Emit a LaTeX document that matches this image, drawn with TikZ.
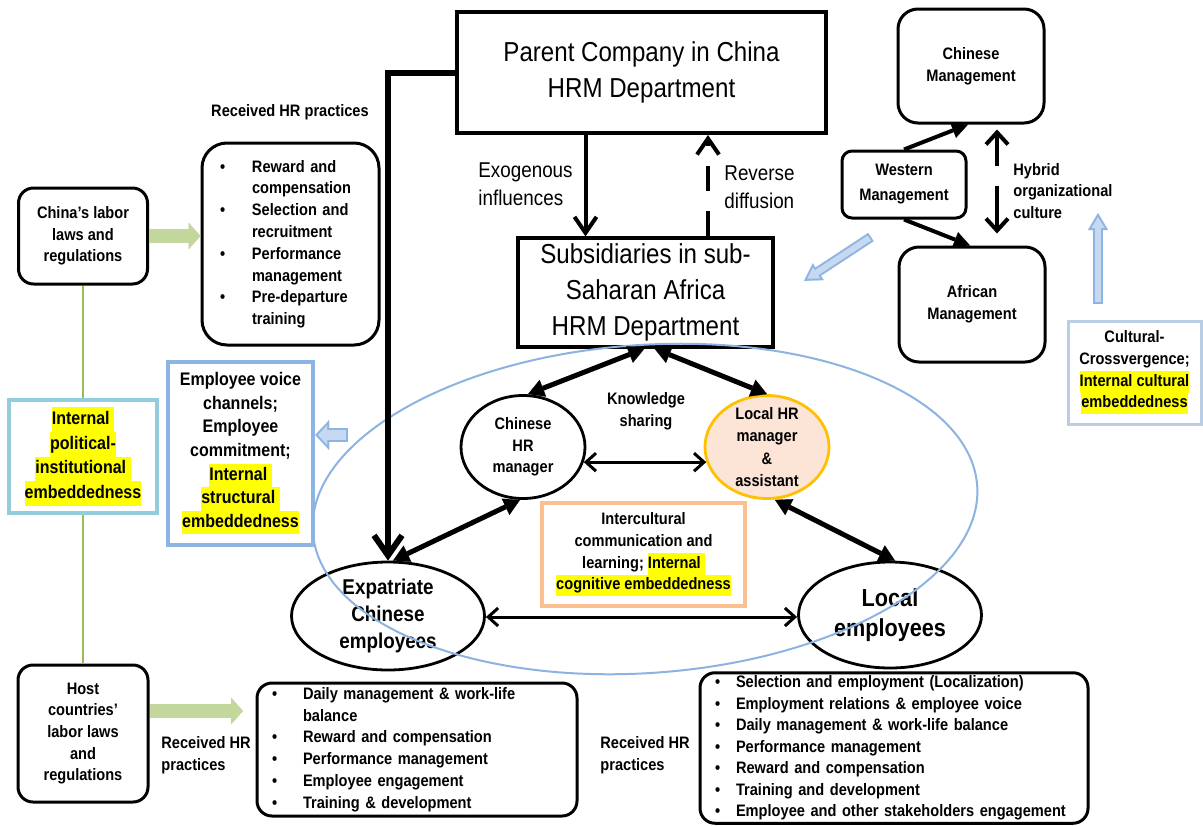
\documentclass[tikz,border=0pt]{standalone}
\usepackage{fontspec}
\setmainfont{Liberation Sans}[FakeStretch=0.88]
\usetikzlibrary{arrows.meta,shapes.geometric}

\definecolor{hlyellow}{HTML}{FFFF00}
\definecolor{lawgreen}{HTML}{C3D69B}
\definecolor{linkgreen}{HTML}{9BBB59}
\definecolor{politc}{HTML}{93CDDD}
\definecolor{voicec}{HTML}{8EB4E3}
\definecolor{zonec}{HTML}{8DB3E2}
\definecolor{cultc}{HTML}{B9CDE5}
\definecolor{icc}{HTML}{FAC090}
\definecolor{lhrfill}{HTML}{FCE4D6}
\definecolor{lhredge}{HTML}{FFC000}
\definecolor{hollowedge}{HTML}{8EB4E3}
\definecolor{hollowfill}{HTML}{C6D9F1}

% yellow highlight behind a line of text
\newcommand\hlt[1]{{\setlength{\fboxsep}{0pt}\colorbox{hlyellow}{\strut#1}}}
% font sizes
\newcommand\ftitle{\fontsize{13.7}{18}\selectfont}
\newcommand\fexo{\fontsize{10.7}{14}\selectfont}
\newcommand\fsm{\fontsize{8.3}{10.8}\selectfont\bfseries}
\newcommand\flist{\fontsize{8.3}{10.9}\selectfont\bfseries}
\newcommand\flistc{\fontsize{8.3}{10.75}\selectfont\bfseries}
\newcommand\fpolit{\fontsize{9.1}{12.3}\selectfont\bfseries}
\newcommand\fvoice{\fontsize{9.1}{11.8}\selectfont\bfseries}
\newcommand\fexp{\fontsize{10.7}{13.5}\selectfont\bfseries}
\newcommand\floc{\fontsize{12.3}{15}\selectfont\bfseries}

\begin{document}
\begin{tikzpicture}[x=0.5pt, y=-0.5pt,
  every node/.style={inner sep=0pt},
  sqbox/.style={draw, line width=1.6pt, align=center},
  rbox/.style={draw, line width=1.5pt, rounded corners=7.5pt, align=center, font=\fsm},
  oval/.style={ellipse, draw, line width=1.4pt, inner sep=-4pt, align=center},
  lbl/.style={font=\fsm, align=center},
  bigdbl/.style={line width=2.5pt, {Triangle[length=8pt,width=9pt,line width=0.1pt]}-{Triangle[length=8pt,width=9pt,line width=0.1pt]}},
  thindbl/.style={line width=1.5pt, {Straight Barb[length=5pt,width=9pt]}-{Straight Barb[length=5pt,width=9pt]}},
  influx/.style={line width=2pt, -{Straight Barb[length=8pt,width=11pt]}},
  mgmtarrow/.style={line width=2pt, -{Triangle[length=8pt,width=8pt,line width=0.1pt]}},
  lawarrow/.style={line width=7pt, lawgreen, -{Triangle[length=6pt,width=13.5pt,line width=0.1pt]}},
  lawlink/.style={linkgreen, line width=0.8pt},
  ]

\fill[white] (0,0) rectangle (1203,825);
\useasboundingbox (0,0) rectangle (1203,825);

% ---------- headquarters and subsidiaries ----------
\node[sqbox, line width=2pt, minimum width=184.5pt, minimum height=60.5pt, font=\ftitle] (parent) at (641.5,72.5)
  {Parent Company in China\\HRM Department};
\node[sqbox, minimum width=127.5pt, minimum height=54.5pt, font=\ftitle] (subs) at (645.5,292.5)
  {Subsidiaries in sub-\\Saharan Africa\\HRM Department};
\node[font=\fexo, align=left, anchor=west] (exo) at (478,184) {Exogenous\\influences};
\node[font=\fexo, align=left, anchor=west] (rev) at (724,187) {Reverse\\diffusion};

% ---------- home-country institutions ----------
\node[lbl] (recvA) at (290,112) {Received HR practices};
\node[rbox, minimum width=64.5pt, minimum height=48pt] (chlaw) at (83,236) {China’s labor\\laws and\\regulations};
\node[rbox, rounded corners=12.5pt, minimum height=101pt, text width=70.5pt, inner xsep=9pt, align=left, font=\flist] (hrA) at (290.5,244)
  {\begin{tabular}{@{}p{16pt}@{}l@{}}
   • & Reward and\\
     & compensation\\
   • & Selection and\\
     & recruitment\\
   • & Performance\\
     & management\\
   • & Pre-departure\\
     & training
   \end{tabular}};

\node[draw=politc, line width=2.4pt, minimum width=74pt, minimum height=56.5pt, font=\fpolit, align=center] (polit) at (83,456.5)
  {\hlt{Internal }\\\hlt{political-}\\\hlt{institutional }\\\hlt{embeddedness}};
\node[draw=voicec, line width=2.2pt, minimum width=72.5pt, minimum height=91.5pt, font=\fvoice, align=center] (voice) at (240.5,453.5)
  {Employee voice\\channels;\\Employee\\commitment;\\\hlt{Internal }\\\hlt{structural }\\\hlt{embeddedness}};

% ---------- host-country institutions ----------
\node[rbox, minimum width=65pt, minimum height=68.5pt] (host) at (83,733.5) {Host\\countries’\\labor laws\\and\\regulations};
\node[lbl, align=left, anchor=west] (recvB) at (161,755) {Received HR\\practices};
\node[rbox, minimum height=66.5pt, text width=145pt, inner xsep=7.5pt, align=left, font=\flist] (hrB) at (417,749.5)
  {\begin{tabular}{@{}p{15.5pt}@{}l@{}}
   • & Daily management \& work-life\\
     & balance\\
   • & Reward and compensation\\
   • & Performance management\\
   • & Employee engagement\\
   • & Training \& development
   \end{tabular}};
\node[lbl, align=left, anchor=west] (recvC) at (600,755) {Received HR\\practices};
\node[rbox, minimum height=75pt, text width=179pt, inner xsep=7.5pt, align=left, font=\flistc] (hrC) at (894,748)
  {\begin{tabular}{@{}p{10.5pt}@{}l@{}}
   • & Selection and employment (Localization)\\
   • & Employment relations \& employee voice\\
   • & Daily management \& work-life balance\\
   • & Performance management\\
   • & Reward and compensation\\
   • & Training and development\\
   • & Employee and other stakeholders engagement
   \end{tabular}};

% ---------- management cultures ----------
\node[rbox, rounded corners=10pt, minimum width=73pt, minimum height=57pt] (chm) at (971,66) {Chinese\\Management};
\node[rbox, rounded corners=5pt, minimum width=62pt, minimum height=33.5pt, font=\fontsize{8.3}{12.5}\selectfont\bfseries] (wm) at (904,184.5) {Western\\Management};
\node[rbox, rounded corners=10pt, minimum width=73pt, minimum height=57.5pt] (afm) at (972,304.5) {African\\Management};
\node[lbl, align=left, anchor=west] (hyb) at (1013,191) {Hybrid\\organizational\\culture};
\node[draw=cultc, line width=1.5pt, minimum width=66.5pt, minimum height=51.5pt, font=\fsm, align=center] (cult) at (1134.5,372.5)
  {Cultural-\\Crossvergence;\\\hlt{Internal cultural}\\\hlt{embeddedness}};

% ---------- actors inside the subsidiary ----------
\node[oval, minimum width=62pt, minimum height=51.5pt, font=\fsm] (chr) at (523,447) {Chinese\\HR\\manager};
\node[oval, draw=lhredge, fill=lhrfill, minimum width=62pt, minimum height=51.5pt, font=\fontsize{8.3}{11.2}\selectfont\bfseries] (lhr) at (767,447)
  {Local HR\\manager\\\&\\assistant};
\node[lbl] (ks) at (646,411) {Knowledge\\sharing};
\node[draw=icc, line width=2pt, minimum width=101.5pt, minimum height=51.5pt, font=\fsm, align=center] (icb) at (643.5,554.5)
  {Intercultural\\communication and\\learning; \hlt{Internal }\\\hlt{cognitive embeddedness}};
\node[oval, minimum width=96.5pt, minimum height=54pt, font=\fexp] (expat) at (388,616) {Expatriate\\Chinese\\employees};
\node[oval, minimum width=91.5pt, minimum height=53pt, font=\floc] (loce) at (890,615) {Local\\employees};

% subsidiary boundary
\node[ellipse, draw=zonec, line width=1pt, minimum width=333pt, minimum height=164pt, rotate=4] (zone) at (645,509) {};

% ---------- free ends of the block arrows ----------
\coordinate (gB) at (243,711);
\coordinate (vt) at (348,435);
\coordinate (hybtip) at (1098,213);
\coordinate (dtail) at (871,237);
\coordinate (dtip) at (804,281);

% ---------- connectors ----------
\draw[line width=3pt, -{Straight Barb[length=10pt,width=14pt]}] (parent.west) -| (expat.north);
\draw[influx] ([xshift=-28pt]parent.south) -- ([xshift=-30pt]subs.north);
\draw[influx, dash pattern=on 12.5pt off 10pt] ([xshift=31.25pt]subs.north) -- ([xshift=33.25pt]parent.south);

\draw[bigdbl] ([xshift=-0.5pt]subs.south) -- ([xshift=2.5pt]chr.north);
\draw[bigdbl] ([xshift=4.5pt]subs.south) -- (lhr.north);
\draw[bigdbl] ([xshift=-1.5pt]chr.south) -- ([xshift=2.5pt]expat.north);
\draw[bigdbl] ([xshift=4pt]lhr.south) -- ([xshift=2.5pt]loce.north);
\draw[thindbl] (chr.-14) -- (lhr.194);
\draw[thindbl] ([yshift=-0.5pt]expat.east) -- ([yshift=-1pt]loce.west);

\draw[mgmtarrow] (wm.north) -- ([xshift=-1.5pt]chm.south);
\draw[mgmtarrow] (wm.south) -- ([xshift=-1pt]afm.north);
\draw[line width=2pt, dash pattern=on 16pt off 10pt on 40pt off 0pt,
      {Straight Barb[length=6pt,width=11pt]}-{Straight Barb[length=6pt,width=11pt]}]
  ([xshift=13pt,yshift=-2.5pt]chm.south) -- ([xshift=12.5pt,yshift=6pt]afm.north);

\draw[lawarrow] (chlaw.east) -- (chlaw.east -| hrA.west);
\draw[lawarrow] ([yshift=11.25pt]host.east) -- (gB);
\draw[lawlink] (chlaw.south) -- (polit.north);
\draw[lawlink] (polit.south) -- (host.north);

% hollow block arrows
\draw[line width=7pt, hollowedge, -{Triangle[length=7pt,width=15pt,line width=0.1pt]}] (vt) -- ([yshift=9.25pt]voice.east);
\draw[line width=5pt, hollowfill, shorten <=1pt, shorten >=1.4pt, -{Triangle[length=4.6pt,width=9.9pt,line width=0.1pt]}] (vt) -- ([yshift=9.25pt]voice.east);

\draw[line width=5pt, hollowedge, -{Triangle[length=8.5pt,width=10pt,line width=0.1pt]}] ([xshift=-18.25pt,yshift=8pt]cult.north) -- (hybtip);
\draw[line width=3pt, hollowfill, shorten <=1pt, shorten >=2pt, -{Triangle[length=5.5pt,width=6.5pt,line width=0.1pt]}] ([xshift=-18.25pt,yshift=8pt]cult.north) -- (hybtip);

\draw[line width=5pt, hollowedge, -{Triangle[length=8.5pt,width=10pt,line width=0.1pt]}] (dtail) -- (dtip);
\draw[line width=3pt, hollowfill, shorten <=1pt, shorten >=2pt, -{Triangle[length=5.5pt,width=6.5pt,line width=0.1pt]}] (dtail) -- (dtip);

\end{tikzpicture}
\end{document}
